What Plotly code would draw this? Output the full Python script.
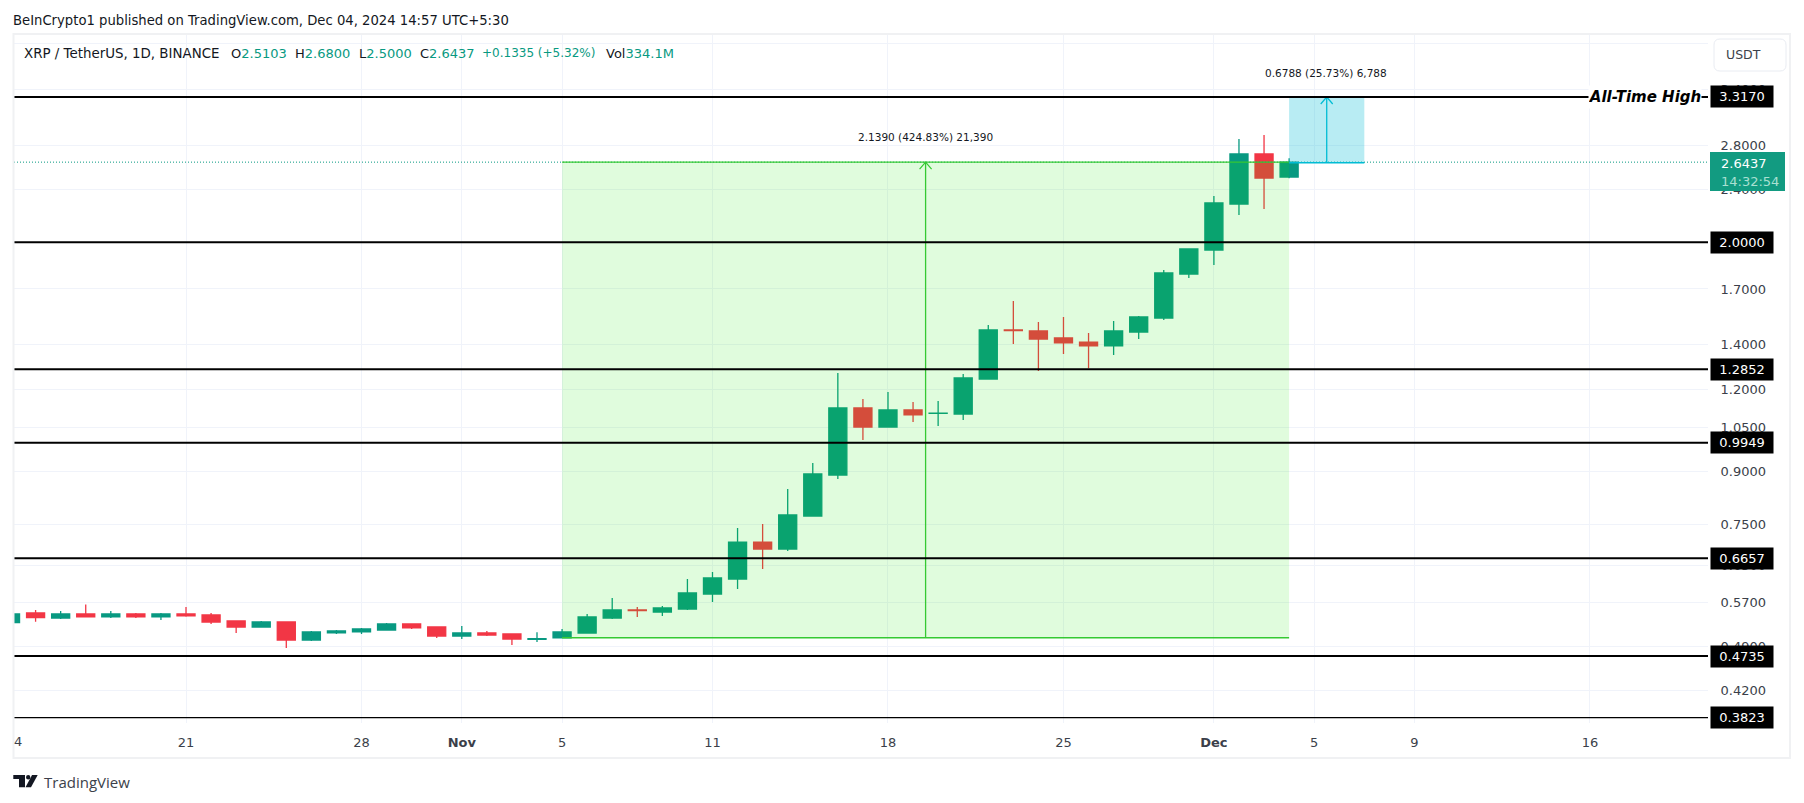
#!/usr/bin/env python3
# -*- coding: utf-8 -*-
"""XRP / USDT daily candles with key levels, TradingView style"""

import math
import pandas as pd
import plotly.graph_objects as go

dates = pd.date_range("2024-10-14", "2024-12-04", freq="D")

opens = [.5319, .5501, .5406, .5482, .5426, .5482, .5426, .5482, .5464, .5350, .5240, .5332, .5007,
         .5132, .5150, .5185, .5295, .5240, .5076, .5132, .5114, .5020, .5047, .5131, .5405, .5559,
         .5520, .5578, .5878, .6192, .7043, .6875, .7712, .8895, 1.1233, 1.0513, 1.1154, 1.1020,
         1.1000, 1.2425, 1.4738, 1.4686, 1.4333, 1.4132, 1.3940, 1.4634, 1.5366, 1.7910, 1.9471,
         2.2851, 2.7196, 2.5103]
highs = [.5482, .5559, .5539, .5669, .5539, .5501, .5501, .5617, .5501, .5350, .5350, .5332, .5168,
         .5185, .5222, .5313, .5295, .5240, .5258, .5168, .5114, .5144, .5203, .5482, .5795, .5617,
         .5637, .6192, .6345, .7396, .7500, .8471, .9274, 1.2688, 1.1590, 1.1876, 1.1469, 1.1510,
         1.2643, 1.4996, 1.6303, 1.5154, 1.5420, 1.4585, 1.5203, 1.5473, 1.8161, 1.9539, 2.3497,
         2.8655, 2.9057, 2.6800]
lows = [.5319, .5338, .5388, .5426, .5406, .5406, .5369, .5432, .5295, .5132, .5240, .4870, .4989,
        .5114, .5114, .5185, .5204, .5042, .5024, .5076, .4921, .4972, .5040, .5131, .5387, .5425,
        .5444, .5559, .5716, .5981, .6412, .6827, .7712, .8773, 1.0048, 1.0513, 1.0698, 1.0551,
        1.0773, 1.2425, 1.4037, 1.2778, 1.3556, 1.2895, 1.3507, 1.4282, 1.5258, 1.7662, 1.8479,
        2.1994, 2.2456, 2.5000]
closes = [.5482, .5415, .5482, .5426, .5482, .5426, .5482, .5445, .5332, .5240, .5332, .5007, .5150,
          .5168, .5204, .5295, .5222, .5076, .5132, .5096, .5024, .5030, .5149, .5425, .5559, .5549,
          .5598, .5898, .6214, .7043, .6875, .7739, .8926, 1.1233, 1.0513, 1.1154, 1.0963, 1.1035,
          1.2470, 1.4738, 1.4700, 1.4282, 1.4086, 1.3940, 1.4686, 1.5418, 1.7971, 1.9539, 2.2931,
          2.7196, 2.5019, 2.6437]

level_prices = [3.3170, 2.0000, 1.2852, 0.9949, 0.6657, 0.4735, 0.3823]
level_widths = [2, 2, 2, 2, 2, 2, 1.3]

price_ticks = [4.0, 3.4, 2.8, 2.4, 2.0, 1.7, 1.4, 1.2, 1.05, 0.9, 0.75, 0.65, 0.57, 0.49, 0.42]

date_ticks = ["2024-10-21", "2024-10-28", "2024-11-01", "2024-11-05", "2024-11-11", "2024-11-18",
              "2024-11-25", "2024-12-01", "2024-12-05", "2024-12-09", "2024-12-16"]
date_labels = ["21", "28", "<b>Nov</b>", "5", "11", "18", "25", "<b>Dec</b>", "5", "9", "16"]

last_price = 2.6437
green_range = ["2024-11-05", "2024-12-04", 0.5047, 2.6437]
cyan_range = ["2024-12-04", "2024-12-07", 2.6382, 3.3170]

legend_items = [("O", 230), ("H", 293.5), ("L", 358), ("C", 419)]
legend_values = ["2.5103", "2.6800", "2.5000", "2.6437"]

UP = "#089981"
DOWN = "#F23645"
GRID = "#F0F3FA"
FRAME = "#F0F1F3"
TEXT = "#131722"
AXIS_TEXT = "#3b3f4a"
RANGE_GREEN = "#35c932"
RANGE_CYAN = "#00BCD4"
FONT = "DejaVu Sans"

# plot area in page pixels
W, H = 1804, 803
LEFT, RIGHT, TOP, BOTTOM = 14, 1708, 35, 723


def px(x):
    return (x - LEFT) / (RIGHT - LEFT)


def py(y):
    return (BOTTOM - y) / (BOTTOM - TOP)


def note(fig, x, y, text, size=13, color=TEXT, anchor="left", family=FONT, **kw):
    fig.add_annotation(xref="paper", yref="paper", x=px(x), y=py(y), text=text, showarrow=False,
                       xanchor=anchor, yanchor="middle", borderpad=0,
                       font=dict(family=family, size=size, color=color), **kw)


fig = go.Figure(go.Candlestick(
    x=dates, open=opens, high=highs, low=lows, close=closes,
    increasing=dict(line=dict(color=UP, width=1.3), fillcolor=UP),
    decreasing=dict(line=dict(color=DOWN, width=1.3), fillcolor=DOWN),
    whiskerwidth=0,
))

shapes = []

# last price dotted line
shapes.append(dict(type="line", xref="paper", x0=0, x1=1, yref="y", y0=last_price, y1=last_price,
                   line=dict(color=UP, width=1, dash="1px,2px")))

# green range tool, sits on top of the candles
gx0, gx1, gy0, gy1 = green_range
gmid = pd.Timestamp(gx0) + (pd.Timestamp(gx1) - pd.Timestamp(gx0)) / 2
shapes.append(dict(type="rect", xref="x", yref="y", x0=gx0, x1=gx1, y0=gy0, y1=gy1,
                   fillcolor="rgba(20,233,0,0.135)", line=dict(width=0)))
for p in (gy0, gy1):
    shapes.append(dict(type="line", xref="x", yref="y", x0=gx0, x1=gx1, y0=p, y1=p,
                       line=dict(color=RANGE_GREEN, width=1.3)))
shapes.append(dict(type="line", xref="x", yref="y", x0=gmid, x1=gmid, y0=gy0, y1=gy1,
                   line=dict(color=RANGE_GREEN, width=1.3)))
shapes.append(dict(type="path", xsizemode="pixel", ysizemode="pixel", xref="x", yref="y",
                   xanchor=gmid, yanchor=gy1, path="M -6 -7 L 0 0 L 6 -7",
                   line=dict(color=RANGE_GREEN, width=1.2)))

# cyan range tool
cx0, cx1, cy0, cy1 = cyan_range
cmid = pd.Timestamp(cx0) + (pd.Timestamp(cx1) - pd.Timestamp(cx0)) / 2
shapes.append(dict(type="rect", xref="x", yref="y", x0=cx0, x1=cx1, y0=cy0, y1=cy1,
                   fillcolor="rgba(0,188,212,0.28)", line=dict(width=0)))
shapes.append(dict(type="line", xref="x", yref="y", x0=cx0, x1=cx1, y0=cy0, y1=cy0,
                   line=dict(color=RANGE_CYAN, width=1.3)))
shapes.append(dict(type="line", xref="x", yref="y", x0=cmid, x1=cmid, y0=cy0, y1=cy1,
                   line=dict(color=RANGE_CYAN, width=1.3)))
shapes.append(dict(type="path", xsizemode="pixel", ysizemode="pixel", xref="x", yref="y",
                   xanchor=cmid, yanchor=cy1, path="M -6 -7 L 0 0 L 6 -7",
                   line=dict(color=RANGE_CYAN, width=1.2)))

# key levels
for p, w in zip(level_prices, level_widths):
    shapes.append(dict(type="line", xref="paper", x0=0, x1=1, yref="y", y0=p, y1=p,
                       line=dict(color="black", width=w)))

# chart frame
shapes.append(dict(type="rect", xref="paper", yref="paper", x0=px(13.5), x1=px(1790), y0=py(34), y1=py(758),
                   line=dict(color=FRAME, width=2), fillcolor="rgba(0,0,0,0)"))

# USDT button
bx0, bx1, by0, by1, r = px(1714), px(1786), py(39), py(71), 6
rx, ry = r / (RIGHT - LEFT), r / (BOTTOM - TOP)
shapes.append(dict(type="path", xref="paper", yref="paper", fillcolor="white",
                   line=dict(color="#E9ECF2", width=1),
                   path=f"M {bx0 + rx} {by0} L {bx1 - rx} {by0} Q {bx1} {by0} {bx1} {by0 - ry} "
                        f"L {bx1} {by1 + ry} Q {bx1} {by1} {bx1 - rx} {by1} L {bx0 + rx} {by1} "
                        f"Q {bx0} {by1} {bx0} {by1 + ry} L {bx0} {by0 - ry} Q {bx0} {by0} {bx0 + rx} {by0} Z"))

# last price tag
shapes.append(dict(type="rect", xref="paper", yref="paper", x0=px(1710), x1=px(1785), y0=py(152), y1=py(191),
                   fillcolor="#129b81", line=dict(width=0)))

# TradingView logo
def logo_path(points):
    return "M " + " L ".join(f"{px(a)} {py(b)}" for a, b in points) + " Z"


for pts in ([(13.3, 775), (25, 775), (25, 787.3), (19, 787.3), (19, 779), (13.3, 779)],
            [(32, 775), (37.7, 775), (31, 787.3), (25.5, 787.3)]):
    shapes.append(dict(type="path", xref="paper", yref="paper", path=logo_path(pts),
                       fillcolor=TEXT, line=dict(width=0)))
shapes.append(dict(type="circle", xref="paper", yref="paper", x0=px(26), x1=px(30.4), y0=py(775), y1=py(779.4),
                   fillcolor=TEXT, line=dict(width=0)))

fig.update_layout(
    width=W, height=H,
    margin=dict(l=LEFT, r=W - RIGHT, t=TOP, b=H - BOTTOM, pad=0),
    paper_bgcolor="white", plot_bgcolor="white",
    showlegend=False,
    boxgap=0.1, boxgroupgap=0.2,
    shapes=shapes,
    font=dict(family=FONT, size=13, color=AXIS_TEXT),
    xaxis=dict(
        type="date", rangeslider=dict(visible=False),
        range=["2024-10-14 03:20", "2024-12-20 17:00"],
        tickmode="array", tickvals=date_ticks, ticktext=date_labels,
        showgrid=True, gridcolor=GRID, gridwidth=1, zeroline=False, showline=False,
        ticks="outside", ticklen=7, tickcolor="rgba(0,0,0,0)",
    ),
    yaxis=dict(
        type="log", side="right",
        range=[math.log10(0.3751), math.log10(4.116)],
        tickmode="array", tickvals=price_ticks, ticktext=[f"{t:.4f}" for t in price_ticks],
        showgrid=True, gridcolor=GRID, gridwidth=1, zeroline=False, showline=False,
        ticks="outside", ticklen=9, tickcolor="rgba(0,0,0,0)",
    ),
)

# header text
note(fig, 12, 20, "BeInCrypto1 published on TradingView.com, Dec 04, 2024 14:57 UTC+5:30", size=13.2)
note(fig, 23, 53.5, "XRP / TetherUS, 1D, BINANCE", size=13.4)
for (letter, x), val in zip(legend_items, legend_values):
    note(fig, x, 53.5, f'{letter}<span style="color:{UP}">{val}</span>', size=13)
note(fig, 481.4, 53.5, "+0.1335 (+5.32%)", size=12)
fig.layout.annotations[-1].font.color = UP
note(fig, 605, 53.5, f'Vol<span style="color:{UP}">334.1M</span>', size=13)

# range tool labels
note(fig, 925, 137, "2.1390 (424.83%) 21,390", size=10.5, anchor="center")
note(fig, 1326, 72.7, "0.6788 (25.73%) 6,788", size=10.5, anchor="center")

# level tags on the price axis
for p in level_prices:
    fig.add_annotation(xref="paper", yref="y", x=px(1710), y=math.log10(p), text=f"{p:.4f}",
                       showarrow=False, xanchor="left", yanchor="middle", bgcolor="black",
                       width=62, height=21, align="center", borderpad=0,
                       font=dict(family=FONT, size=13, color="white"))

note(fig, 1644.5, 97, "<b><i>All-Time High</i></b>", size=15, anchor="center", color="black",
     bgcolor="white", width=112, height=22)

note(fig, 1720, 163, "2.6437", color="white")
note(fig, 1720, 181, "14:32:54", color="#a9e0d2")
note(fig, 1725, 54.7, "USDT", size=12.5, color=AXIS_TEXT)

# the clipped left tick label and the footer
note(fig, 13, 741.7, "4", color=AXIS_TEXT)
note(fig, 43, 781.7, "TradingView", size=15, family="Open Sans", color=AXIS_TEXT)

fig.write_html("out.html", config={"displayModeBar": False},
               post_script="document.body.style.margin='0';document.body.style.overflow='hidden';")
